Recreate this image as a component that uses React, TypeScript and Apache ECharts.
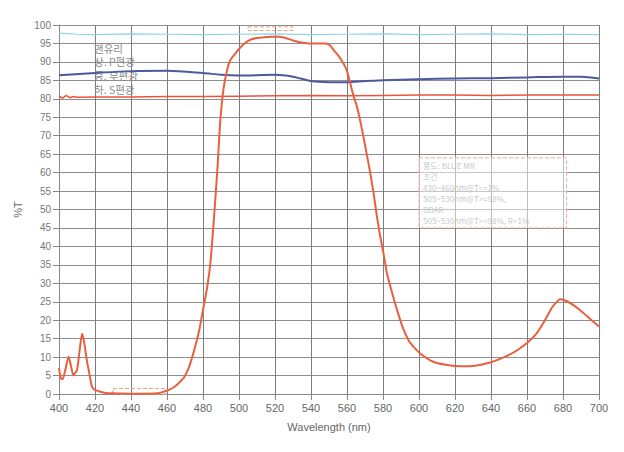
import React, { useEffect, useRef } from "react";
import * as echarts from "echarts";

// Main filter transmission curve (nm, %T)
const mainNm = [400, 401, 402, 403.5, 405.3, 406.5, 408, 410, 411.5, 412.8, 414, 415.5, 416.5, 418.3, 420, 423, 426, 430, 440, 450, 455, 458, 461, 464, 467, 469.5, 472, 474, 476, 478, 480, 482, 484, 486, 488, 489.6, 491.5, 493.5, 495.2, 497.5, 500, 503, 506.3, 510, 514, 518, 522, 526, 530, 534, 538.7, 544, 548, 550.5, 552.6, 555.5, 558, 560, 561.8, 563.5, 565.5, 568, 570.2, 572.5, 574.8, 576.5, 578.5, 580.5, 582.2, 585, 587.8, 591, 594.2, 597.5, 600.7, 606, 610, 615, 620, 625, 630, 635, 640, 645, 650, 655, 660, 665, 670, 674, 678.5, 682, 686, 690, 694, 697, 700];
const mainT = [7, 4.3, 4, 6.5, 10.1, 8, 5.1, 6.5, 12, 16.3, 14, 9, 6.5, 2, 1.1, 0.6, 0.3, 0.2, 0.1, 0.1, 0.2, 0.6, 1.1, 1.9, 3.2, 4.5, 7, 10, 13.5, 17.5, 22.8, 28, 35, 47, 61, 74, 83, 88, 90.5, 92, 93.5, 95, 96, 96.5, 96.7, 96.8, 96.8, 96.5, 95.8, 95.3, 95, 95, 95, 94.5, 93.2, 91.5, 89.6, 87.5, 84.2, 81, 77.9, 72.5, 67, 61, 54.4, 48.5, 42.6, 37.5, 32.7, 27.5, 22.8, 18, 14.6, 12.5, 11, 9.2, 8.4, 7.9, 7.6, 7.5, 7.6, 8, 8.6, 9.5, 10.6, 12, 13.8, 16.2, 20, 23.5, 25.7, 25.2, 24, 22.5, 20.8, 19.5, 18.3];

// Bare glass (cyan)
const glassNm = [400, 410, 420, 440, 460, 480, 500, 520, 540, 560, 580, 600, 620, 640, 660, 680, 700];
const glassT = [97.8, 97.5, 97.4, 97.6, 97.5, 97.4, 97.5, 97.6, 97.4, 97.5, 97.6, 97.4, 97.5, 97.6, 97.4, 97.5, 97.4];

// Blue line
const blueNm = [400, 420, 440, 460, 480, 490, 500, 520, 530, 540, 550, 560, 570, 580, 600, 620, 640, 660, 680, 690, 700];
const blueT = [86.4, 87, 87.5, 87.6, 87, 86.5, 86.3, 86.5, 86, 84.8, 84.5, 84.5, 84.8, 85, 85.3, 85.5, 85.6, 85.8, 86, 86, 85.5];

// Red line
const redNm = [400, 402, 404, 406, 408, 410, 420, 440, 460, 480, 500, 520, 540, 560, 580, 600, 620, 640, 660, 680, 700];
const redT = [80.8, 80.2, 80.9, 80.3, 80.6, 80.4, 80.5, 80.5, 80.6, 80.6, 80.7, 80.8, 80.9, 80.8, 80.9, 81, 81, 80.9, 81, 81, 81];

// Spec boxes: [nmStart, nmEnd, Tlow, Thigh]
const specBoxes = [
  [505, 530, 98.5, 99.5],
  [430, 460, 0, 1.5],
];
// Annotation box: [nmStart, nmEnd, Tlow, Thigh]
const noteBox = [600, 682, 45, 64];
const noteLines = ["용도: BLUE MR", "조건", "430~460nm@T<=1%", "505~530nm@T>=98%,", "BBAR", "505~530nm@T>=98%, R<1%"];
const legendLines = ["맨유리", "상. P편광", "중. 무편광", "하. S편광"];

const xTicks = { min: 400, max: 700, interval: 20 };
const yTicks = { min: 0, max: 100, interval: 5 };

const zip = (a: number[], b: number[]) => a.map((v, i) => [v, b[i]]);

export default function App() {
  const ref = useRef<HTMLDivElement>(null);
  useEffect(() => {
    if (!ref.current) return;
    const chart = echarts.init(ref.current, undefined, { renderer: "svg" });
    const labelFont = "'Liberation Sans', Arial, sans-serif";
    const cjk = "'Noto Sans CJK KR', sans-serif";
    chart.setOption({
      animation: false,
      backgroundColor: "#ffffff",
      grid: { left: 59, right: 25, top: 25, bottom: 58 },
      xAxis: {
        type: "value",
        min: xTicks.min,
        max: xTicks.max,
        interval: xTicks.interval,
        name: "Wavelength (nm)",
        nameLocation: "middle",
        nameGap: 27,
        nameTextStyle: { color: "#666", fontSize: 11, fontFamily: labelFont },
        axisLine: { show: true, lineStyle: { color: "#888" } },
        axisTick: { show: true, length: 6, lineStyle: { color: "#888" } },
        axisLabel: { color: "#666", fontSize: 11, margin: 8, fontFamily: labelFont },
        splitLine: { show: true, lineStyle: { color: "#7c7c7c", width: 1 } },
      },
      yAxis: {
        type: "value",
        min: yTicks.min,
        max: yTicks.max,
        interval: yTicks.interval,
        name: "%T",
        nameLocation: "middle",
        nameGap: 36,
        nameRotate: 90,
        nameTextStyle: { color: "#666", fontSize: 11, fontFamily: labelFont },
        axisLine: { show: true, lineStyle: { color: "#888" } },
        axisTick: { show: true, length: 6, lineStyle: { color: "#888" } },
        axisLabel: { color: "#777", fontSize: 10, margin: 8, fontFamily: labelFont },
        splitLine: { show: true, lineStyle: { color: "#8e8e8e", width: 1 } },
      },
      series: [
        {
          name: "glass",
          type: "line",
          data: zip(glassNm, glassT),
          showSymbol: false,
          lineStyle: { color: "#8fd4ea", width: 1.2 },
        },
        {
          name: "blue",
          type: "line",
          data: zip(blueNm, blueT),
          showSymbol: false,
          smooth: 0.3,
          lineStyle: { color: "#4b5a9e", width: 2 },
        },
        {
          name: "red",
          type: "line",
          data: zip(redNm, redT),
          showSymbol: false,
          lineStyle: { color: "#e8553a", width: 1.5 },
        },
        {
          name: "main",
          type: "line",
          data: zip(mainNm, mainT),
          showSymbol: false,
          smooth: 0.2,
          lineStyle: { color: "#e9603f", width: 2 },
          markArea: {
            silent: true,
            label: { show: false },
            data: [
              ...specBoxes.map((b) => [
                {
                  coord: [b[0], b[3]],
                  itemStyle: { color: "rgba(0,0,0,0)", borderColor: "#eea080", borderWidth: 1, borderType: "dashed" },
                },
                { coord: [b[1], b[2]] },
              ]),
              [
                {
                  coord: [noteBox[0], noteBox[3]],
                  itemStyle: { color: "rgba(255,255,255,0.5)", borderColor: "#eab0a0", borderWidth: 1, borderType: "dashed" },
                },
                { coord: [noteBox[1], noteBox[2]] },
              ],
            ],
          },
        },
      ],
    });
    const p = chart.convertToPixel({ gridIndex: 0 }, [noteBox[0], noteBox[3]]) as number[];
    chart.setOption({
      graphic: [
        ...legendLines.map((t, i) => ({
          type: "text",
          left: 94,
          top: 43 + i * 13.6,
          silent: true,
          style: {
            text: t,
            fill: "#8c8c8c",
            fontSize: 10.5,
            fontFamily: cjk,
          },
        })),
        {
          type: "text",
          x: p[0] + 4,
          y: p[1] + 2,
          silent: true,
          style: {
            text: noteLines.join("\n"),
            fill: "#8c8c8c",
            fontSize: 8,
            lineHeight: 11,
            fontFamily: cjk,
          },
        },
      ],
    });
    return () => chart.dispose();
  }, []);
  return (
    <div
      ref={ref}
      style={{ position: "fixed", left: 0, top: 0, width: 624, height: 452 }}
    />
  );
}
